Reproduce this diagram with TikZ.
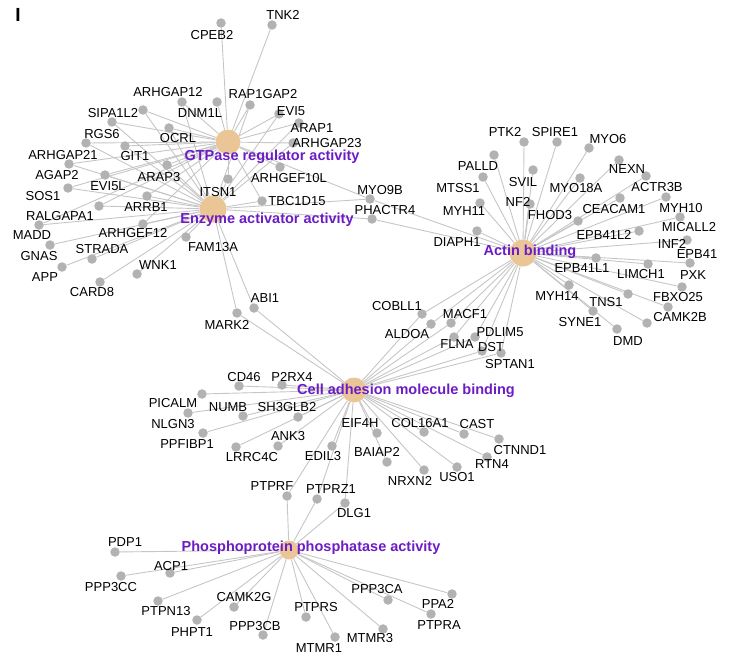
\documentclass[tikz,border=0pt]{standalone}
\usepackage{fontspec}
\setmainfont{Liberation Sans}
\usetikzlibrary{backgrounds}
\pgfdeclarelayer{foreground}
\pgfsetlayers{background,main,foreground}
\definecolor{hubfill}{RGB}{234,198,150}
\definecolor{dotgray}{RGB}{178,178,178}
\definecolor{edgegray}{RGB}{198,198,198}
\definecolor{termpurple}{RGB}{108,28,196}
\begin{document}
\begin{tikzpicture}[x=1pt,y=-1pt,
		gene/.style={circle,fill=dotgray,inner sep=0pt,minimum size=9.5pt},
		hub/.style={circle,fill=hubfill,inner sep=0pt},
		glabel/.style={font=\fontsize{13}{13}\selectfont,inner sep=0pt},
		term/.style={font=\fontsize{14.5}{14.5}\selectfont\bfseries,text=termpurple,inner sep=0pt},
		link/.style={draw=edgegray,line width=0.9pt}]
	\useasboundingbox (0,0) rectangle (735,671);
	\node[font=\fontsize{19}{19}\selectfont\bfseries] (panel) at (18,15) {I};
	% term hubs
	\node[hub,minimum size=25pt] (GTP) at (228,142) {};
	\node[hub,minimum size=27pt] (ENZ) at (213,209) {};
	\node[hub,minimum size=27pt] (ACT) at (523,253) {};
	\node[hub,minimum size=25pt] (CAM) at (354,390) {};
	\node[hub,minimum size=19pt] (PHO) at (289,550) {};
	\begin{pgfonlayer}{foreground}
		\node[term] (GTPlbl) at (272,157) {GTPase regulator activity};
		\node[term] (ENZlbl) at (267,220) {Enzyme activator activity};
		\node[term] (ACTlbl) at (530,252) {Actin binding};
		\node[term] (CAMlbl) at (406,391) {Cell adhesion molecule binding};
		\node[term] (PHOlbl) at (311,548) {Phosphoprotein phosphatase activity};
	\end{pgfonlayer}
	% genes: name / dot / label
	\foreach \n/\x/\y/\lx/\ly in {CPEB2/221/23/212/35, TNK2/272/25/283/15, ARHGAP12/182/102/168/92,
		DNM1L/217/102/200/113, RAP1GAP2/250/105/263/94, SIPA1L2/143/110/113/113, RGS6/112/122/102/134,
		OCRL/169/128/178/138, EVI5/279/114/291/111, ARAP1/299/123/312/128, ARHGAP23/293/143/327/143,
		ARHGAP21/86/143/63/155, GIT1/125/146/135/156, AGAP2/69/164/57/175, ARAP3/167/165/159/177,
		EVI5L/105/175/108/186, SOS1/68/188/43/196, ARRB1/147/196/146/207, RALGAPA1/99/206/60/216,
		MADD/39/225/32/235, ARHGEF12/143/224/133/233, GNAS/50/245/39/256, STRADA/92/259/102/249,
		APP/62/267/45/277, WNK1/137/274/158/265, CARD8/100/282/92/292, FAM13A/186/237/213/247,
		ITSN1/228/179/218/192, ARHGEF10L/280/167/289/178, TBC1D15/262/201/297/201,
		MYO9B/370/199/380/190, PHACTR4/372/219/385/210,
		PTK2/524/142/505/132, SPIRE1/557/142/555/132, MYO6/589/148/608/139, PALLD/494/155/478/166,
		NEXN/619/160/627/169, SVIL/533/170/523/182, MTSS1/483/177/458/188, MYO18A/580/178/576/188,
		ACTR3B/646/176/657/187, MYH10/666/197/681/208, CEACAM1/620/198/614/209, NF2/530/204/518/202,
		MYH11/480/203/464/211, FHOD3/578/221/550/215, MICALL2/680/217/689/227, DIAPH1/477/231/457/242,
		EPB41L2/639/231/604/235, INF2/687/240/672/244, EPB41/690/263/697/254, EPB41L1/596/258/582/268,
		LIMCH1/648/264/641/274, PXK/682/287/693/275, MYH14/569/285/557/296, TNS1/628/294/606/302,
		FBXO25/668/307/678/297, SYNE1/593/311/580/322, CAMK2B/647/323/680/317, DMD/617/329/628/341,
		COBLL1/422/314/397/306, ALDOA/431/324/407/334, MACF1/451/323/465/314, FLNA/454/337/457/344,
		PDLIM5/475/337/500/332, DST/482/351/491/347, SPTAN1/501/353/510/364,
		ABI1/254/308/265/298, MARK2/237/313/227/325, CD46/239/386/244/377, P2RX4/282/385/292/377,
		PICALM/202/394/173/403, NUMB/243/416/228/407, SH3GLB2/298/417/287/407, NLGN3/188/413/173/424,
		PPFIBP1/203/433/187/444, ANK3/278/446/288/436, LRRC4C/236/447/252/457, EIF4H/377/433/360/423,
		COL16A1/424/432/420/423, EDIL3/332/446/323/456, BAIAP2/387/462/377/452, CAST/464/434/477/424,
		CTNND1/499/439/520/450, RTN4/487/457/492/464, USO1/457/467/457/477, NRXN2/424/470/410/481,
		PTPRF/287/496/272/486, PTPRZ1/317/499/331/489, DLG1/345/503/354/513,
		PDP1/115/552/125/542, ACP1/170/573/171/566, PPP3CC/121/576/111/587, PTPN13/158/601/166/611,
		CAMK2G/234/607/244/597, PHPT1/197/620/192/632, PPP3CB/263/635/255/626, PTPRS/306/617/316/607,
		MTMR1/335/637/319/648, MTMR3/383/629/370/638, PPP3CA/388/600/377/589, PPA2/452/594/438/604,
		PTPRA/431/614/439/625}{
		\node[gene] (\n) at (\x,\y) {};
		\begin{pgfonlayer}{foreground}
			\node[glabel] at (\lx,\ly) {\n};
		\end{pgfonlayer}
	}
	\begin{pgfonlayer}{background}
		\foreach \g in {CPEB2,TNK2,ARHGAP12,DNM1L,RAP1GAP2,SIPA1L2,RGS6,OCRL,EVI5,ARAP1,ARHGAP23,
			ARHGAP21,GIT1,AGAP2,ARAP3,EVI5L,SOS1,ARRB1,RALGAPA1,MADD,ARHGEF12,ITSN1,ARHGEF10L,TBC1D15,MYO9B}
			\draw[link] (GTP) -- (\g);
		\foreach \g in {ARHGAP12,RAP1GAP2,SIPA1L2,RGS6,OCRL,EVI5,ARAP1,ARHGAP23,ARHGAP21,GIT1,AGAP2,
			ARAP3,EVI5L,SOS1,ARRB1,RALGAPA1,MADD,ARHGEF12,GNAS,STRADA,APP,WNK1,CARD8,FAM13A,ITSN1,
			TBC1D15,MYO9B,PHACTR4,ABI1,MARK2}
			\draw[link] (ENZ) -- (\g);
		\foreach \g in {MYO9B,PHACTR4,PTK2,SPIRE1,MYO6,PALLD,NEXN,SVIL,MTSS1,MYO18A,ACTR3B,MYH10,
			CEACAM1,NF2,MYH11,FHOD3,MICALL2,DIAPH1,EPB41L2,INF2,EPB41,EPB41L1,LIMCH1,PXK,MYH14,TNS1,
			FBXO25,SYNE1,CAMK2B,DMD,COBLL1,ALDOA,MACF1,FLNA,PDLIM5,DST,SPTAN1}
			\draw[link] (ACT) -- (\g);
		\foreach \g in {COBLL1,ALDOA,MACF1,FLNA,PDLIM5,DST,SPTAN1,ABI1,MARK2,CD46,P2RX4,PICALM,NUMB,
			SH3GLB2,NLGN3,PPFIBP1,ANK3,LRRC4C,EIF4H,COL16A1,EDIL3,BAIAP2,CAST,CTNND1,RTN4,USO1,NRXN2,
			PTPRF,PTPRZ1,DLG1}
			\draw[link] (CAM) -- (\g);
		\foreach \g in {PTPRF,PTPRZ1,DLG1,PDP1,ACP1,PPP3CC,PTPN13,CAMK2G,PHPT1,PPP3CB,PTPRS,MTMR1,
			MTMR3,PPP3CA,PPA2,PTPRA}
			\draw[link] (PHO) -- (\g);
	\end{pgfonlayer}
\end{tikzpicture}
\end{document}
